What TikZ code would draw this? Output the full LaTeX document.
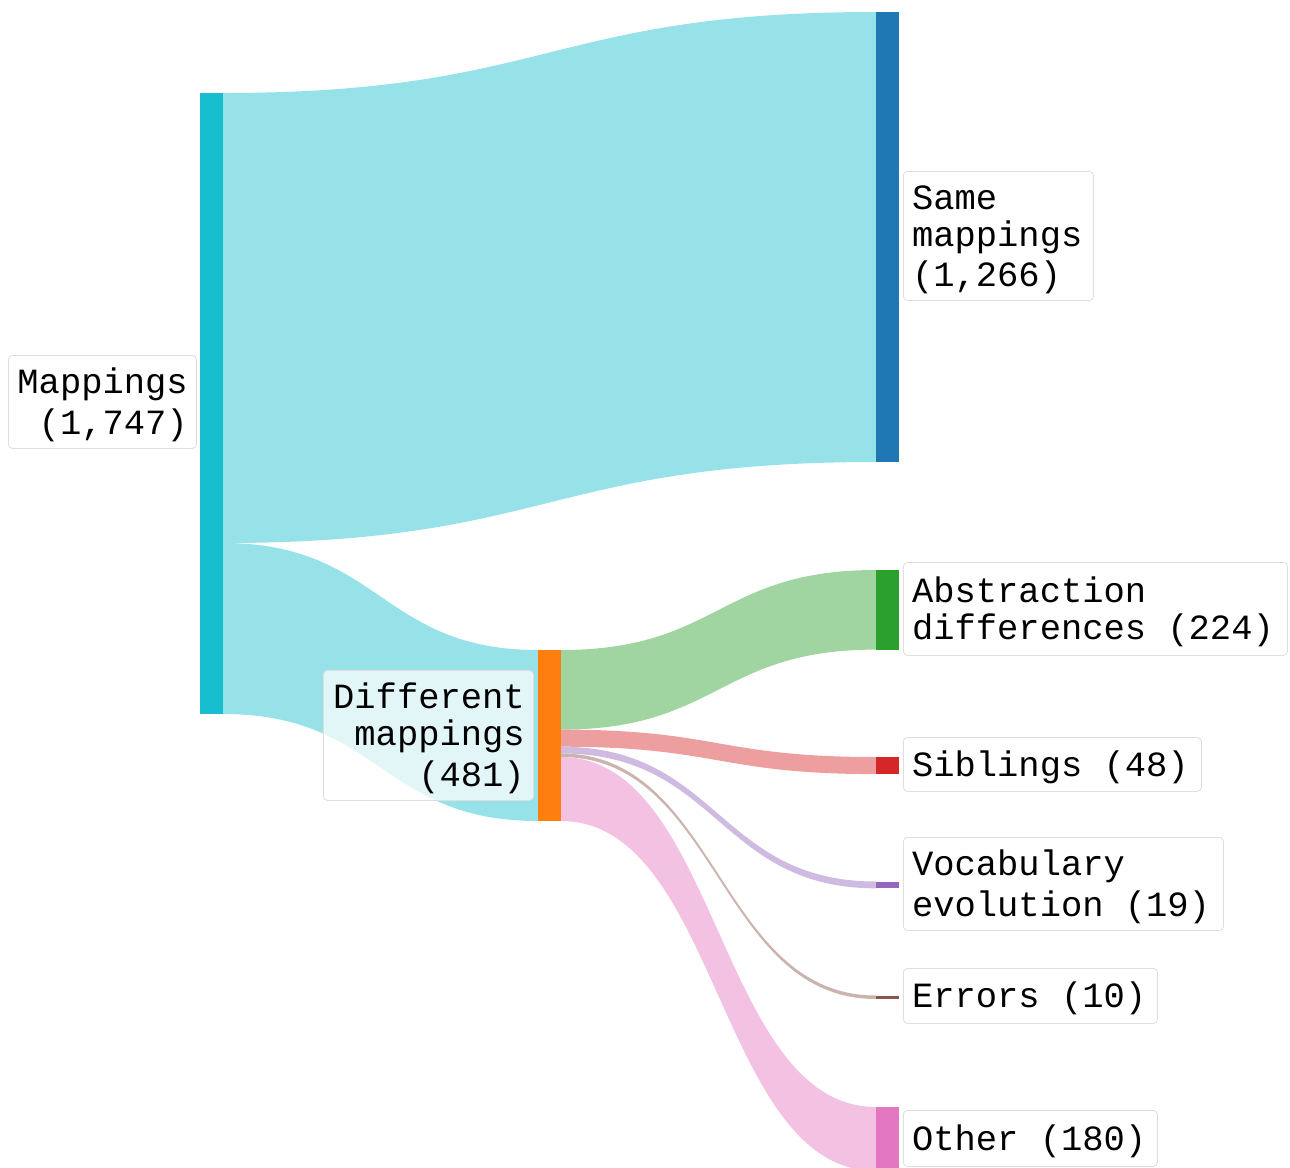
\documentclass[tikz,border=0pt]{standalone}
\usepackage{fontspec}
\setmonofont{Liberation Mono}
\definecolor{cMap}{HTML}{17BECF}
\definecolor{cSame}{HTML}{1F77B4}
\definecolor{cDiff}{HTML}{FF7F0E}
\definecolor{cAbs}{HTML}{2CA02C}
\definecolor{cSib}{HTML}{D62728}
\definecolor{cVoc}{HTML}{9467BD}
\definecolor{cErr}{HTML}{8C564B}
\definecolor{cOth}{HTML}{E377C2}
\newcommand\lnstrut{\rule[-4.1pt]{0pt}{27.75pt}}
\newcommand\msp{\hspace*{0.6em}}
\newcommand\lblfont{\ttfamily\fontsize{26.6}{27.75}\selectfont}
% x1 yt1 yb1 x2 yt2 yb2 xm colour
\newcommand\sankeyflow[8]{%
  \fill[#8] (#1,#2) .. controls (#7,#2) and (#7,#5) .. (#4,#5) -- (#4,#6)
    .. controls (#7,#6) and (#7,#3) .. (#1,#3) -- cycle;}
\begin{document}
\begin{tikzpicture}[x=0.75pt,y=-0.75pt,
  sbar/.style={inner sep=0pt,outer sep=0pt,draw=none,anchor=north west,minimum width=17.25pt},
  lbl/.style={draw=black!13,line width=0.6pt,rounded corners=3pt,fill=white,fill opacity=0.72,
    text opacity=1,inner xsep=6.5pt,inner ysep=0pt,anchor=north west,
    font=\lblfont}]
\useasboundingbox (0,0) rectangle (1290,1168);
\clip (0,0) rectangle (1290,1168);
% flows
\sankeyflow{223}{93}{543}{876}{12}{462}{549.5}{cMap!45!white}
\sankeyflow{223}{543}{714}{538}{650}{821}{380.5}{cMap!45!white}
\sankeyflow{561}{650}{729.6}{876}{570}{649.6}{718.5}{cAbs!45!white}
\sankeyflow{561}{729.6}{746.7}{876}{757}{774.1}{718.5}{cSib!45!white}
\sankeyflow{561}{746.7}{753.5}{876}{881.5}{888.3}{718.5}{cVoc!45!white}
\sankeyflow{561}{753.5}{757}{876}{995.5}{999}{718.5}{cErr!45!white}
\sankeyflow{561}{757}{821}{876}{1107}{1171}{718.5}{cOth!45!white}
% bars
\node[sbar,fill=cMap,minimum height=465.75pt] (bmap) at (200,93) {};
\node[sbar,fill=cSame,minimum height=337.5pt] (bsame) at (876,12) {};
\node[sbar,fill=cDiff,minimum height=128.25pt] (bdiff) at (538,650) {};
\node[sbar,fill=cAbs,minimum height=59.7pt] (babs) at (876,570) {};
\node[sbar,fill=cSib,minimum height=12.8pt] (bsib) at (876,757) {};
\node[sbar,fill=cVoc,minimum height=5.1pt] (bvoc) at (876,881.5) {};
\node[sbar,fill=cErr,minimum height=2.6pt] (berr) at (876,995.5) {};
\node[sbar,fill=cOth,minimum height=48pt] (both) at (876,1107) {};
% labels
\node[lbl,text width=128pt,align=right,minimum height=69.75pt] (lmap) at (8,355)
  {\lnstrut Mappings\\\lnstrut(1,747)};
\node[lbl,text width=129.5pt,align=left,minimum height=96.75pt] (lsame) at (903,171)
  {\lnstrut Same\\\lnstrut mappings\\\lnstrut(1,266)};
\node[lbl,text width=144.5pt,align=right,minimum height=97.5pt] (ldiff) at (323,670)
  {\lnstrut Different\\\lnstrut mappings\\\lnstrut(481)};
\node[lbl,text width=275pt,align=left,minimum height=69.75pt] (labs) at (903,562)
  {\lnstrut Abstraction\\\lnstrut differences\msp(224)};
\node[lbl,text width=210.5pt,align=left,minimum height=40.5pt] (lsib) at (903,737)
  {\lnstrut Siblings\msp(48)};
\node[lbl,text width=227pt,align=left,minimum height=69.75pt] (lvoc) at (903,837)
  {\lnstrut Vocabulary\\\lnstrut evolution\msp(19)};
\node[lbl,text width=177.5pt,align=left,minimum height=41.25pt] (lerr) at (903,968)
  {\lnstrut Errors\msp(10)};
\node[lbl,text width=177.5pt,align=left,minimum height=42pt] (loth) at (903,1110)
  {\lnstrut Other\msp(180)};
\end{tikzpicture}
\end{document}
